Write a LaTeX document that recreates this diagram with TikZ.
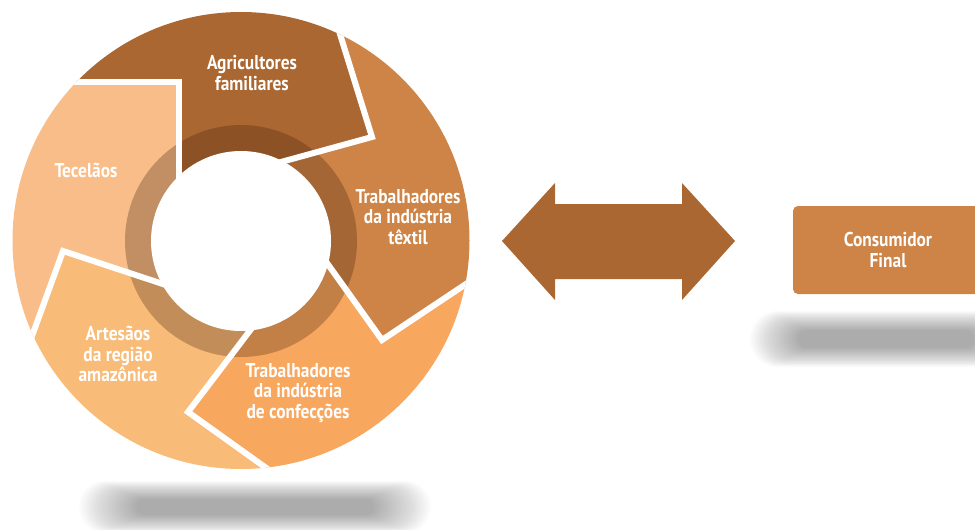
\documentclass[tikz,border=0pt]{standalone}
\usepackage{fontspec}
\setmainfont{PT Sans}[FakeStretch=0.87]
\definecolor{agri}{HTML}{AB6731}
\definecolor{textil}{HTML}{CD8446}
\definecolor{confec}{HTML}{F8A75F}
\definecolor{artes}{HTML}{F9BB78}
\definecolor{tecel}{HTML}{F8BD88}
\definecolor{ringc}{RGB}{70,35,15}
\begin{document}
\begin{tikzpicture}[x=1pt,y=-1pt,
  lbl/.style={text=white, font=\bfseries\fontsize{20}{20.5}\selectfont, align=center, inner sep=0pt},
  sepline/.style={white, line width=6pt, line join=miter},
  consbox/.style={fill=textil, rounded corners=5pt, minimum width=190pt, minimum height=88pt, text=white, font=\bfseries\fontsize{20}{20.5}\selectfont, align=center, inner sep=0pt}]
\useasboundingbox (0,0) rectangle (975,530);
\clip (0,0) rectangle (975,530);

% soft shadows
\foreach \k in {0,...,24}{
  \pgfmathsetmacro\w{176-2.4*\k}
  \pgfmathsetmacro\h{26-0.75*\k}
  \fill[black, opacity=0.017, rounded corners=\h pt] ({255-\w},{507-\h}) rectangle ({255+\w},{507+\h});
}
\foreach \k in {0,...,24}{
  \pgfmathsetmacro\w{136-2*\k}
  \pgfmathsetmacro\h{28-0.8*\k}
  \fill[black, opacity=0.017, rounded corners=\h pt] ({886-\w},{339-\h}) rectangle ({886+\w},{339+\h});
}

% separator points
\coordinate (M) at (241,241);
\coordinate (E1) at (20,82);   \coordinate (C1) at (179,82);  \coordinate (I1) at (179,185);
\coordinate (E2) at (330,2);   \coordinate (C2) at (372,137); \coordinate (I2) at (270,165);
\coordinate (E3) at (20,369);  \coordinate (C3) at (63,251);  \coordinate (I3) at (175,288);
\coordinate (E4) at (297,490); \coordinate (C4) at (188,412); \coordinate (I4) at (258,320);
\coordinate (E5) at (493,266); \coordinate (C5) at (382,340); \coordinate (I5) at (322,256);

\begin{scope}
  \clip (241,240.5) circle[radius=228.5];
  \fill[agri] (M) -- (I1) -- (C1) -- (E1) -- (-20,82) -- (-20,-20) -- (330,-20) -- (E2) -- (C2) -- (I2) -- cycle;
  \fill[textil] (M) -- (I2) -- (C2) -- (E2) -- (330,-20) -- (520,-20) -- (520,266) -- (E5) -- (C5) -- (I5) -- cycle;
  \fill[confec] (M) -- (I5) -- (C5) -- (E5) -- (520,266) -- (520,520) -- (297,520) -- (E4) -- (C4) -- (I4) -- cycle;
  \fill[artes] (M) -- (I4) -- (C4) -- (E4) -- (297,520) -- (-20,520) -- (-20,369) -- (E3) -- (C3) -- (I3) -- cycle;
  \fill[tecel] (M) -- (I3) -- (C3) -- (E3) -- (-20,369) -- (-20,82) -- (E1) -- (C1) -- (I1) -- cycle;
  \fill[ringc, opacity=0.3] (M) circle[radius=116];
  \draw[sepline] (E1) -- (C1) -- (I1);
  \draw[sepline] (E2) -- (C2) -- (I2);
  \draw[sepline] (E3) -- (C3) -- (I3);
  \draw[sepline] (E4) -- (C4) -- (I4);
  \draw[sepline] (E5) -- (C5) -- (I5);
\end{scope}
\fill[white] (M) circle[radius=90];

% labels
\node[lbl] (agr) at (252,73) {Agricultores\\familiares};
\node[lbl] (tec) at (86,170) {Tecelãos};
\node[lbl] (tex) at (408,217) {Trabalhadores\\da indústria\\têxtil};
\node[lbl] (art) at (118,354) {Artesãos\\da região\\amazônica};
\node[lbl] (con) at (298,393) {Trabalhadores\\da indústria\\de confecções};

% double arrow
\fill[agri] (502,241) -- (555,183) -- (555,204) -- (682,204) -- (682,183) -- (735,241)
  -- (682,300) -- (682,279) -- (555,279) -- (555,300) -- cycle;

% consumer box
\node[consbox] (cons) at (888,250) {Consumidor\\Final};
\end{tikzpicture}
\end{document}
